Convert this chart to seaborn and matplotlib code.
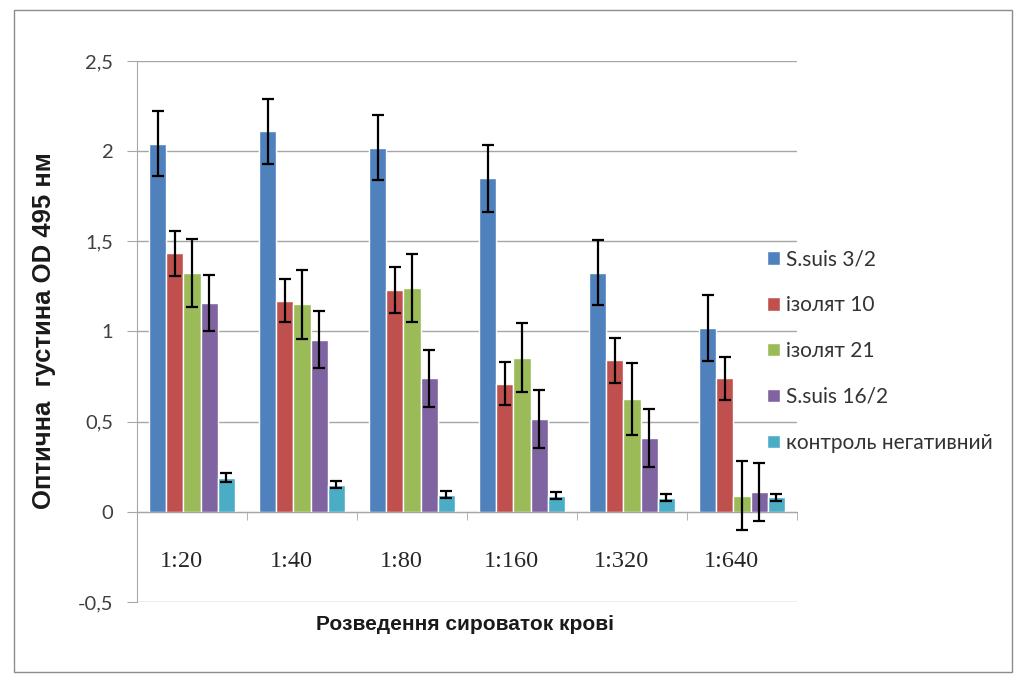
import matplotlib
matplotlib.use("Agg")
import numpy as np
import pandas as pd
import matplotlib.pyplot as plt
import seaborn as sns
from matplotlib.patches import Rectangle
from matplotlib.ticker import FixedLocator, FuncFormatter
from matplotlib.transforms import ScaledTranslation

# ── Data ──────────────────────────────────────────────────────────────────────
dilutions = ["1:20", "1:40", "1:80", "1:160", "1:320", "1:640"]
strains = ["S.suis 3/2", "ізолят 10", "ізолят 21", "S.suis 16/2", "контроль негативний"]

od_ssuis_3_2  = [2.04, 2.11, 2.02, 1.85, 1.325, 1.02]
od_izolyat_10 = [1.435, 1.17, 1.23, 0.71, 0.84, 0.74]
od_izolyat_21 = [1.325, 1.15, 1.24, 0.855, 0.625, 0.09]
od_ssuis_16_2 = [1.16, 0.955, 0.74, 0.515, 0.41, 0.11]
od_control    = [0.19, 0.15, 0.095, 0.09, 0.078, 0.08]

err_ssuis_3_2  = [0.18, 0.18, 0.18, 0.185, 0.18, 0.185]
err_izolyat_10 = [0.125, 0.12, 0.13, 0.12, 0.125, 0.12]
err_izolyat_21 = [0.19, 0.19, 0.19, 0.19, 0.2, 0.19]
err_ssuis_16_2 = [0.155, 0.16, 0.16, 0.16, 0.16, 0.16]
err_control    = [0.025, 0.02, 0.02, 0.02, 0.02, 0.02]

colors = ["#4F81BD", "#C0504D", "#9BBB59", "#8064A2", "#4BACC6"]

values = [od_ssuis_3_2, od_izolyat_10, od_izolyat_21, od_ssuis_16_2, od_control]
errors = [err_ssuis_3_2, err_izolyat_10, err_izolyat_21, err_ssuis_16_2, err_control]

df = pd.DataFrame({
    "dilution": np.tile(dilutions, len(strains)),
    "strain": np.repeat(strains, len(dilutions)),
    "od": np.concatenate(values),
})

# ── Plot ──────────────────────────────────────────────────────────────────────
sns.set_style("white")
plt.rcParams["font.family"] = ["Lato", "DejaVu Sans"]

fig = plt.figure(figsize=(10.24, 6.83), dpi=100)
ax = fig.add_axes([0.1338, 0.1186, 0.6445, 0.7921])

sns.barplot(data=df, x="dilution", y="od", hue="strain", order=dilutions,
            hue_order=strains, palette=colors, width=0.775, errorbar=None,
            saturation=1, ax=ax, legend=True)

# error bars on top of each bar
for cont, errs in zip(ax.containers, errors):
    xs = [b.get_x() + b.get_width() / 2 for b in cont]
    ys = [b.get_height() for b in cont]
    ax.errorbar(xs, ys, yerr=errs, fmt="none", ecolor="black",
                elinewidth=1.6, capsize=4, capthick=1.6, zorder=5)

ax.set_ylim(-0.5, 2.5)
ax.set_xlim(-0.5, 5.5)
ax.set_yticks(np.arange(-0.5, 2.51, 0.5))
ax.yaxis.set_major_formatter(FuncFormatter(
    lambda v, p: ("%g" % round(v, 1)).replace(".", ",")))
ax.grid(axis="y", color="#A6A6A6", linewidth=1)
ax.set_axisbelow(True)

for s in ["top", "right"]:
    ax.spines[s].set_visible(False)
ax.spines["left"].set_color("#A6A6A6")
ax.spines["bottom"].set_position(("data", 0))
ax.spines["bottom"].set_color("#A6A6A6")

ax.tick_params(axis="y", direction="out", length=7, color="#A6A6A6",
               labelsize=14.5, labelcolor="#404040", left=True, pad=10)
ax.tick_params(axis="x", which="major", length=0, pad=28, labelsize=17.5)
ax.xaxis.set_minor_locator(FixedLocator(np.arange(0.5, 5.6, 1)))
ax.tick_params(axis="x", which="minor", direction="out", length=6,
               color="#A6A6A6", bottom=True)
shift = ScaledTranslation(-11 / 100, 0, fig.dpi_scale_trans)
for lab in ax.get_xticklabels():
    lab.set_fontfamily("Liberation Serif")
    lab.set_transform(lab.get_transform() + shift)

ax.set_xlabel("")
ax.set_ylabel("")
fig.text(0.043, 0.516, "Оптична  густина OD 495 нм", rotation=90,
         ha="center", va="center", fontsize=18.5, fontweight="bold",
         family="Liberation Sans", color="#1a1a1a")
fig.text(0.454, 0.085, "Розведення сироваток крові", ha="center",
         va="center", fontsize=15, fontweight="bold", family="Liberation Sans",
         color="#1a1a1a")

handles, labels = ax.get_legend_handles_labels()
ax.legend_.remove()
fig.legend(handles, labels, loc="upper left", bbox_to_anchor=(0.749, 0.635),
           frameon=False, fontsize=15, handlelength=0.62, handleheight=0.62,
           handletextpad=0.3, labelspacing=1.24, borderpad=0, borderaxespad=0,
           labelcolor="#333333")

# outer chart frame
fig.patches.append(Rectangle((0.0137, 0.016), 0.975, 0.969,
                             transform=fig.transFigure, fill=False,
                             edgecolor="#8C8C8C", linewidth=1))

fig.savefig("out.png", dpi=100)
